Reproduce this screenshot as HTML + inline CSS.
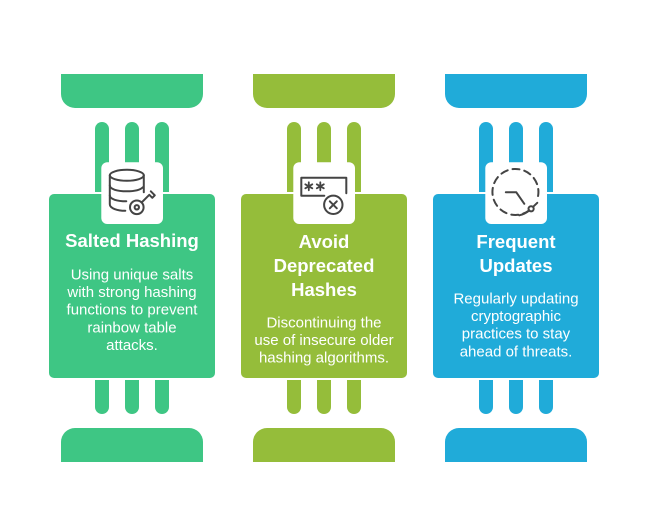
<!DOCTYPE html>
<html><head><meta charset="utf-8"><style>
html,body{margin:0;padding:0;background:#fff;}
svg{display:block;}
text{font-family:"Liberation Sans",Arial,sans-serif;fill:#fff;}
.t{font-weight:bold;font-size:18.5px;}
.b{font-size:15px;}
</style></head><body>
<svg width="648" height="511" viewBox="0 0 648 511" xmlns="http://www.w3.org/2000/svg">
<defs>
<g id="struct">
  <path d="M61,74 H203 V94 A14,14 0 0 1 189,108 H75 A14,14 0 0 1 61,94 Z"/>
  <path d="M61,462 H203 V442 A14,14 0 0 0 189,428 H75 A14,14 0 0 0 61,442 Z"/>
  <path d="M95,192 V129 A7,7 0 0 1 109,129 V192 Z"/>
  <path d="M125,192 V129 A7,7 0 0 1 139,129 V192 Z"/>
  <path d="M155,192 V129 A7,7 0 0 1 169,129 V192 Z"/>
  <path d="M95,380 V407 A7,7 0 0 0 109,407 V380 Z"/>
  <path d="M125,380 V407 A7,7 0 0 0 139,407 V380 Z"/>
  <path d="M155,380 V407 A7,7 0 0 0 169,407 V380 Z"/>
  <rect x="49" y="194" width="166" height="184" rx="5"/>
</g>
</defs>
<use href="#struct" fill="#3EC684"/>
<use href="#struct" fill="#95BD3A" transform="translate(192,0)"/>
<use href="#struct" fill="#20ABD9" transform="translate(384,0)"/>

<!-- icon boxes -->
<rect x="101.3" y="162.3" width="61.7" height="61.7" rx="6" fill="#fff"/>
<rect x="293.3" y="162.3" width="61.7" height="61.7" rx="6" fill="#fff"/>
<rect x="485.3" y="162.3" width="61.7" height="61.7" rx="6" fill="#fff"/>

<!-- icon 1: database + key -->
<g transform="translate(101.3,162.3)" fill="none" stroke="#444" stroke-width="2" stroke-linecap="round" stroke-linejoin="round">
  <ellipse cx="25.5" cy="13" rx="17" ry="5.5"/>
  <path d="M8.5,13 V42 C8.5,46 16,48.5 24,48.5"/>
  <path d="M42.5,13 V30"/>
  <path d="M8.5,23 C8.5,27 16,29 25.5,29 C33,29 39,27.5 41.5,25"/>
  <path d="M8.5,33 C8.5,37 16,39 25,39"/>
  <circle cx="35.5" cy="45" r="6.8"/>
  <circle cx="35.5" cy="45" r="2.2"/>
  <path d="M40.5,40 L48,32.5 L51,35.5 L53.5,33 L49.5,29"/>
</g>

<!-- icon 2: password field + x -->
<g transform="translate(293.3,162.3)" fill="none" stroke="#444" stroke-width="2" stroke-linecap="round" stroke-linejoin="round">
  <path d="M31,33.5 H8 V15.5 H53 V31"/>
  <circle cx="40" cy="42.5" r="9.2"/>
  <path d="M36.5,39 L43.5,46 M43.5,39 L36.5,46"/>
  <g stroke-width="1.8">
    <path d="M15.5,20 V28 M12,22 L19,26 M19,22 L12,26"/>
    <path d="M27,20 V28 M23.5,22 L30.5,26 M30.5,22 L23.5,26"/>
  </g>
</g>

<!-- icon 3: dashed clock -->
<g transform="translate(485.3,162.3)" fill="none" stroke="#444" stroke-width="2" stroke-linecap="round" stroke-linejoin="round">
  <path d="M44,48 A23,23 0 1 1 52.5,35" stroke-dasharray="7,5"/>
  <path d="M34,53 A23,23 0 0 0 43.5,48.5"/>
  <path d="M20.5,30 H31 L39,41.5"/>
  <circle cx="45.8" cy="46.5" r="2.6"/>
  <path d="M47.8,44.5 L52,40.5"/>
</g>

<!-- column 1 text -->
<text class="t" x="132" y="247" text-anchor="middle">Salted Hashing</text>
<text class="b" x="132" y="279.3" text-anchor="middle">Using unique salts</text>
<text class="b" x="132" y="297" text-anchor="middle">with strong hashing</text>
<text class="b" x="132" y="314.7" text-anchor="middle">functions to prevent</text>
<text class="b" x="132" y="332.4" text-anchor="middle">rainbow table</text>
<text class="b" x="132" y="350.1" text-anchor="middle">attacks.</text>

<!-- column 2 text -->
<text class="t" x="324" y="248" text-anchor="middle">Avoid</text>
<text class="t" x="324" y="272" text-anchor="middle">Deprecated</text>
<text class="t" x="324" y="296" text-anchor="middle">Hashes</text>
<text class="b" x="324" y="327.5" text-anchor="middle">Discontinuing the</text>
<text class="b" x="324" y="345" text-anchor="middle">use of insecure older</text>
<text class="b" x="324" y="362.5" text-anchor="middle">hashing algorithms.</text>

<!-- column 3 text -->
<text class="t" x="516" y="248" text-anchor="middle">Frequent</text>
<text class="t" x="516" y="272" text-anchor="middle">Updates</text>
<text class="b" x="516" y="303.3" text-anchor="middle">Regularly updating</text>
<text class="b" x="516" y="321" text-anchor="middle">cryptographic</text>
<text class="b" x="516" y="338.7" text-anchor="middle">practices to stay</text>
<text class="b" x="516" y="356.4" text-anchor="middle">ahead of threats.</text>
</svg>
</body></html>
